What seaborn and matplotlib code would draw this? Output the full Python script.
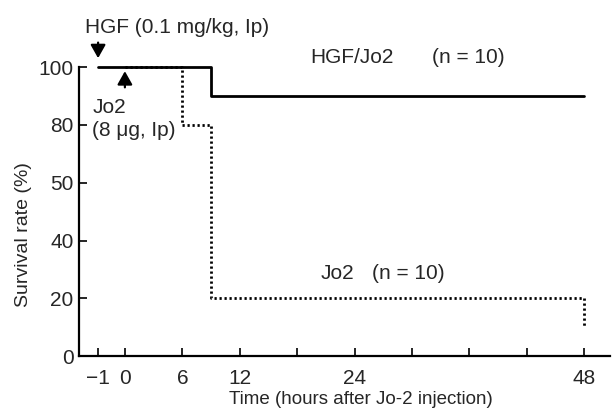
import numpy as np
import pandas as pd
import matplotlib
matplotlib.use("Agg")
import matplotlib.pyplot as plt
import seaborn as sns

# survival curves (hours, %)
hgf_hours = [-1, 9, 48]
hgf_survival = [100, 90, 90]
jo2_hours = [0, 6, 9, 48]
jo2_survival = [100, 80, 20, 10]

x_ticks = [-1, 0, 6, 12, 18, 24, 30, 36, 42, 48]
x_ticklabels = ["\u22121", "0", "6", "12", "", "24", "", "", "", "48"]
y_ticks = [0, 20, 40, 60, 80, 100]
y_ticklabels = ["0", "20", "40", "50", "80", "100"]

df = pd.concat([
    pd.DataFrame({"hours": hgf_hours, "survival": hgf_survival, "group": "HGF/Jo2"}),
    pd.DataFrame({"hours": jo2_hours, "survival": jo2_survival, "group": "Jo2"}),
])

sns.set_style("ticks")
plt.rcParams["font.family"] = ["Liberation Sans", "DejaVu Sans"]
plt.rcParams["font.size"] = 15

fig = plt.figure(figsize=(6.12, 4.17), dpi=100)
ax = fig.add_axes([0.129, 0.146, 0.868, 0.693])

# stretch the pre-injection hour like the original axis
k = 2.8
fwd = lambda x: np.where(x < 0, k * x, x)
inv = lambda x: np.where(x < 0, x / k, x)
ax.set_xscale("function", functions=(fwd, inv))

sns.lineplot(data=df, x="hours", y="survival", style="group", sort=False,
             drawstyle="steps-post", color="black", linewidth=2.0,
             dashes={"HGF/Jo2": "", "Jo2": (0.8, 1.0)}, legend=False, ax=ax)
for ln in ax.lines:
    ln.set_clip_on(False)

ax.set_xlim(-4.8 / k, 50.7)
ax.set_ylim(0, 100)
ax.set_xticks(x_ticks)
ax.set_xticklabels(x_ticklabels)
ax.set_yticks(y_ticks)
ax.set_yticklabels(y_ticklabels)
ax.tick_params(direction="in", length=6, width=1.2, color="black", pad=9)
ax.tick_params(axis="y", pad=4)
for side in ["top", "right"]:
    ax.spines[side].set_visible(False)
for side in ["left", "bottom"]:
    ax.spines[side].set_linewidth(1.6)
    ax.spines[side].set_color("black")

ax.set_xlabel("Time (hours after Jo-2 injection)", fontsize=13.5, va="center")
ax.xaxis.set_label_coords(0.531, -0.149)
ax.set_ylabel("Survival rate (%)", fontsize=14, va="center")
ax.yaxis.set_label_coords(-0.105, 0.42)

tr = ax.transAxes
ax.text(0.011, 1.138, "HGF (0.1 mg/kg, Ip)", transform=tr, va="center")
ax.text(0.025, 0.82, "Jo2\n(8 \u03bcg, Ip)", transform=tr, va="center", linespacing=1.25)
ax.text(0.435, 1.035, "HGF/Jo2", transform=tr, va="center")
ax.text(0.665, 1.035, "(n = 10)", transform=tr, va="center")
ax.text(0.454, 0.287, "Jo2", transform=tr, va="center")
ax.text(0.552, 0.287, "(n = 10)", transform=tr, va="center")

arrow = dict(arrowstyle="-|>,head_length=0.8,head_width=0.45", color="black",
             lw=1.6, mutation_scale=10, shrinkA=0, shrinkB=0)
ax.annotate("", xy=(-1, 103.1), xytext=(-1, 108.5), textcoords="data",
            arrowprops=arrow, annotation_clip=False)
ax.annotate("", xy=(0, 98.6), xytext=(0, 93.0), textcoords="data",
            arrowprops=arrow, annotation_clip=False)

fig.savefig("out.png", dpi=100)
